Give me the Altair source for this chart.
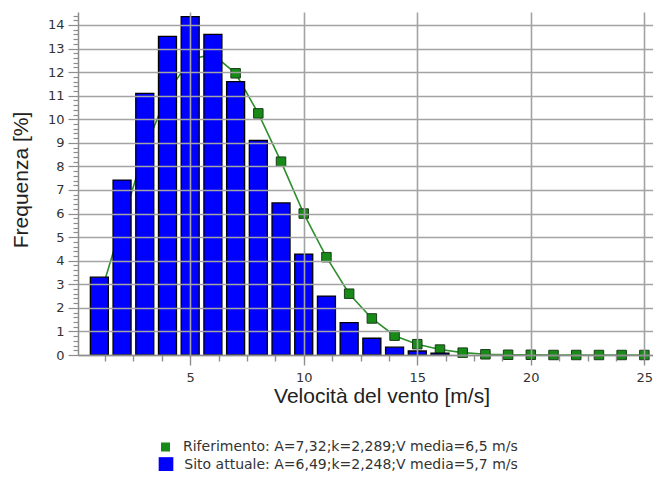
import altair as alt
import pandas as pd

# ---- data ----
speeds = list(range(1, 26))
riferimento = [2.4, 5.6, 8.7, 11.1, 12.55, 12.75, 11.95, 10.25, 8.2, 6.0,
               4.15, 2.6, 1.55, 0.82, 0.46, 0.23, 0.1, 0.03, 0.01, 0.01,
               0.0, 0.0, 0.0, 0.0, 0.0]
sito_speeds = list(range(1, 17))
sito = [3.3, 7.42, 11.1, 13.52, 14.35, 13.6, 11.6, 9.1, 6.45, 4.28,
        2.5, 1.37, 0.71, 0.33, 0.17, 0.08]

lab_rif = "Riferimento: A=7,32;k=2,289;V media=6,5 m/s"
lab_sito = "Sito attuale: A=6,49;k=2,248;V media=5,7 m/s"

# tick positions: labelled majors plus unlabelled minor ticks
x_ticks = sorted([5, 10, 15, 20, 25] +
                 [m + q for m in [0, 5, 10, 15, 20] for q in [1.25, 2.5, 3.75]])
y_ticks = [round(i * 0.2, 1) for i in range(0, 73)]

X_DOMAIN = [0.28, 25.16]
Y_DOMAIN = [0, 14.55]

df_rif = pd.DataFrame({"v": speeds, "f": riferimento, "s": lab_rif})
df_sito = pd.DataFrame({"v": sito_speeds, "f": sito, "s": lab_sito})

xs = alt.Scale(domain=X_DOMAIN, nice=False, zero=False)
ys = alt.Scale(domain=Y_DOMAIN, nice=False)

GRID = "#a3a3a3"
TICK = "#8e8e8e"

X_MAJOR = "datum.value % 5 === 0"
Y_MAJOR = "datum.value % 1 === 0"

x_axis = alt.Axis(
    values=x_ticks, tickCount=500, orient="bottom", grid=True, gridColor=GRID,
    gridWidth=1.6,
    gridOpacity={"condition": {"test": X_MAJOR, "value": 1}, "value": 0},
    domainColor=TICK, domainWidth=1.5, tickColor=TICK, tickWidth=1.4,
    tickSize={"condition": {"test": X_MAJOR, "value": 10}, "value": 6},
    labelPadding=6.5, labelFont="DejaVu Sans", labelFontSize=13, labelColor="#333",
    labelExpr="datum.value % 5 === 0 ? '' + datum.value : ''",
    labelFlush=False, labelOverlap=False,
    title="Velocità del vento [m/s]", titleFont="Liberation Sans", titleFontSize=21,
    titleFontWeight="normal", titleColor="#222", titleX=303.5, titleY=47,
    titleBaseline="alphabetic", titleAlign="center", zindex=1,
)
y_axis = alt.Axis(
    values=y_ticks, tickCount=500, orient="left", grid=True, gridColor=GRID,
    gridWidth=1.6,
    gridOpacity={"condition": {"test": Y_MAJOR, "value": 1}, "value": 0},
    domainColor=TICK, domainWidth=1.5, tickColor=TICK, tickWidth=1.2,
    tickSize={"condition": {"test": Y_MAJOR, "value": 10}, "value": 5},
    labelPadding=4, labelFont="DejaVu Sans", labelFontSize=13, labelColor="#333",
    labelExpr="datum.value % 1 === 0 ? '' + datum.value : ''",
    labelFlush=False, labelOverlap=False,
    title="Frequenza [%]", titleFont="Liberation Sans", titleFontSize=21,
    titleFontWeight="normal", titleColor="#222", titleX=-57, titleY=167.5,
    titleAngle=270, titleBaseline="middle", titleAlign="center", zindex=1,
)

line = alt.Chart(df_rif).mark_line(color="#2d8f2d", strokeWidth=1.6).encode(
    x=alt.X("v:Q", scale=xs, axis=x_axis),
    y=alt.Y("f:Q", scale=ys, axis=y_axis),
)

pts = alt.Chart(df_rif).mark_point(
    shape="square", filled=True, size=90, opacity=1,
    stroke="#1b3d1b", strokeWidth=1,
).encode(
    x=alt.X("v:Q", scale=xs),
    y=alt.Y("f:Q", scale=ys),
    color=alt.Color(
        "s:N",
        scale=alt.Scale(domain=[lab_rif], range=["#178a17"]),
        legend=alt.Legend(
            title=None, orient="none", legendX=80.5, legendY=428,
            symbolType="square", symbolSize=81, symbolStrokeWidth=0,
            symbolOpacity=1, labelFont="DejaVu Sans", labelFontSize=14,
            labelColor="#333", labelOffset=10.5, padding=0, labelLimit=600,
        ),
    ),
)

bars = alt.Chart(df_sito).mark_bar(size=18, stroke="black", strokeWidth=1.3).encode(
    x=alt.X("v:Q", scale=xs),
    y=alt.Y("f:Q", scale=ys),
    fill=alt.Fill(
        "s:N",
        scale=alt.Scale(domain=[lab_sito], range=["#0000ff"]),
        legend=alt.Legend(
            title=None, orient="none", legendX=80.5, legendY=445,
            symbolType="square", symbolSize=215, symbolStrokeWidth=0,
            symbolOpacity=1, labelFont="DejaVu Sans", labelFontSize=14,
            labelColor="#333", labelOffset=10.8, padding=0, labelLimit=600,
        ),
    ),
)

chart = alt.layer(line, pts, bars).properties(
    width=575, height=343,
    padding={"left": 70, "top": 4, "right": 0, "bottom": 116},
    autosize=alt.AutoSizeParams(type="none"),
    background="white",
).configure_view(stroke=None)

chart.save("out.html", embed_options={"renderer": "svg", "actions": False})
